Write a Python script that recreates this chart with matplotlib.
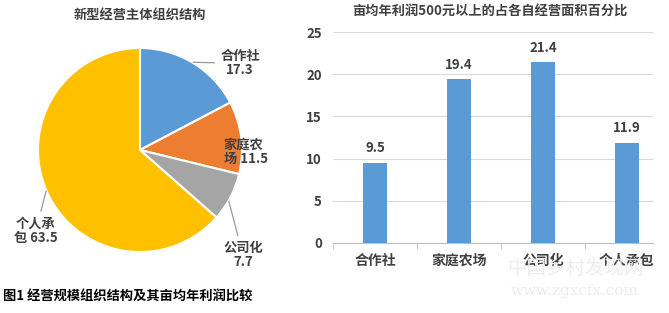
import matplotlib.pyplot as plt

plt.rcParams['font.family'] = ['Noto Sans CJK SC', 'DejaVu Sans']

# pie data
pie_labels = ['合作社', '家庭农场', '公司化', '个人承包']
pie_values = [17.3, 11.5, 7.7, 63.5]
pie_colors = ['#5B9BD5', '#ED7D31', '#A5A5A5', '#FFC000']

# bar data
bar_labels = ['合作社', '家庭农场', '公司化', '个人承包']
bar_values = [9.5, 19.4, 21.4, 11.9]

W, H = 669, 313
fig = plt.figure(figsize=(W / 100, H / 100), dpi=100)
text_c = '#404040'


def px_axes(left, top, right, bottom):
    return fig.add_axes([left / W, 1 - bottom / H, (right - left) / W, (bottom - top) / H])


# ---- pie ----
cx, cy, r = 140, 150, 102
ax1 = px_axes(0, 25, 295, 285)
ax1.pie(pie_values, colors=pie_colors, startangle=90, counterclock=False,
        wedgeprops=dict(edgecolor='white', linewidth=1.5))
ax1.set_xlim((0 - cx) / r, (295 - cx) / r)
ax1.set_ylim((cy - 285) / r, (cy - 25) / r)
ax1.set_aspect('auto')
ax1.axis('off')

lab_kw = dict(fontsize=9.5, color=text_c, linespacing=1.0, fontweight='bold')
line_kw = dict(arrowstyle='-', color='#999999', lw=0.9, shrinkA=2, shrinkB=0)
ax1.annotate('合作社\n17.3', xy=(0.52, 0.86), xytext=(0.98, 0.85),
             ha='center', va='center', arrowprops=line_kw, **lab_kw)
ax1.text(0.82, -0.02, '家庭农\n场 11.5', ha='left', va='center', **lab_kw)
ax1.annotate('公司化\n7.7', xy=(0.87, -0.50), xytext=(1.01, -1.03),
             ha='center', va='center', arrowprops=line_kw, **lab_kw)
ax1.annotate('个人承\n包 63.5', xy=(-0.92, -0.40), xytext=(-1.02, -0.79),
             ha='center', va='center', arrowprops=line_kw, **lab_kw)
fig.text(140 / W, 1 - 15 / H, '新型经营主体组织结构', ha='center', va='center',
         fontsize=9.5, color=text_c, fontweight='bold')

# ---- bars ----
ax2 = px_axes(333, 32, 653, 243)
x = list(range(len(bar_values)))
ax2.bar(x, bar_values, width=0.29, color='#5B9BD5', zorder=3)
for xi, v in zip(x, bar_values):
    ax2.text(xi, v + 0.9, f'{v}', ha='center', va='bottom', fontsize=9.5,
             color=text_c, fontweight='bold')
ax2.set_xlim(-0.5, 3.31)
ax2.set_ylim(0, 25)
ax2.set_yticks([0, 5, 10, 15, 20, 25])
ax2.set_xticks(x)
ax2.set_xticklabels(bar_labels, fontsize=10, color=text_c, fontweight='bold')
ax2.set_xticks([-0.5, 0.5, 1.5, 2.5], minor=True)
ax2.tick_params(axis='x', which='major', length=0, pad=8)
ax2.tick_params(axis='x', which='minor', length=4, color='#BFBFBF')
ax2.tick_params(axis='y', length=0, labelsize=9.5, labelcolor=text_c, pad=8)
for lab in ax2.get_yticklabels():
    lab.set_fontweight('bold')
ax2.grid(axis='y', color='#D9D9D9', lw=0.8, zorder=0)
for s in ['top', 'right', 'left']:
    ax2.spines[s].set_visible(False)
ax2.spines['bottom'].set_color('#BFBFBF')
fig.text(490 / W, 1 - 12 / H, '亩均年利润500元以上的占各自经营面积百分比', ha='center',
         va='center', fontsize=9.5, color=text_c, fontweight='bold')

# caption and watermark (the watermark sits behind the tick labels, as in the source)
fig.text(3 / W, 1 - 297 / H, '图1 经营规模组织结构及其亩均年利润比较', ha='left',
         va='center', fontsize=9.5, color='black', fontweight='bold')
fig.text(575 / W, 1 - 268 / H, '中国乡村发现网', ha='center', va='center',
         fontsize=14, color='#EDEDED', zorder=0)
fig.text(575 / W, 1 - 291 / H, 'www.zgxcfx.com', ha='center', va='center',
         fontsize=11, color='#EDEDED', family='DejaVu Serif', zorder=0)

fig.savefig('out.png', dpi=100, facecolor='white')
